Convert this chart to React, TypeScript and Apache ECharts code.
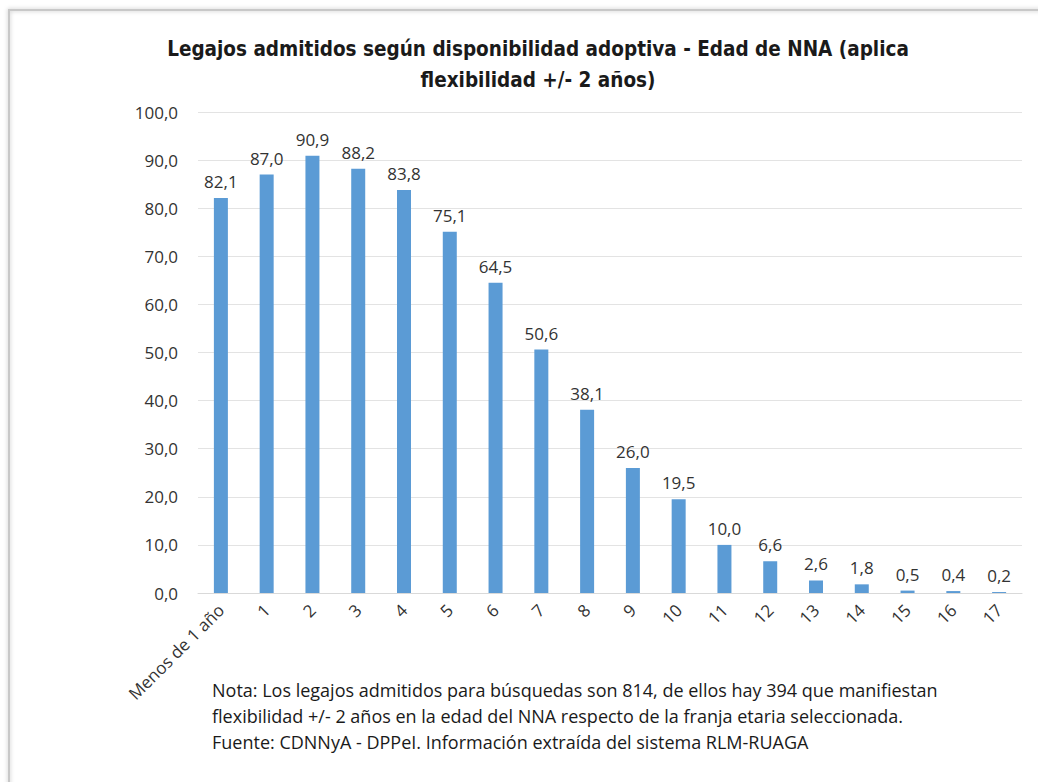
import React, { useEffect, useRef } from "react";
import * as echarts from "echarts";

const categories = ["Menos de 1 año", "1", "2", "3", "4", "5", "6", "7", "8", "9", "10", "11", "12", "13", "14", "15", "16", "17"];
const values = [82.1, 87.0, 90.9, 88.2, 83.8, 75.1, 64.5, 50.6, 38.1, 26.0, 19.5, 10.0, 6.6, 2.6, 1.8, 0.5, 0.4, 0.2];
const titleText = "Legajos admitidos según disponibilidad adoptiva - Edad de NNA (aplica\nflexibilidad +/- 2 años)";
const noteLines = [
  "Nota: Los legajos admitidos para búsquedas son 814, de ellos hay 394 que manifiestan",
  "flexibilidad +/- 2 años en la edad del NNA respecto de la franja etaria seleccionada.",
  "Fuente: CDNNyA - DPPeI. Información extraída del sistema RLM-RUAGA",
];

const fmt = (v: number) => v.toFixed(1).replace(".", ",");
const FONT = "'Liberation Sans Narrow', 'DejaVu Sans Condensed', 'Open Sans', sans-serif";
const FONT2 = "'Open Sans', 'Noto Sans', sans-serif";

export default function App() {
  const ref = useRef<HTMLDivElement>(null);
  useEffect(() => {
    const chart = echarts.init(ref.current!, null, { renderer: "svg" });
    chart.setOption({
      animation: false,
      backgroundColor: "#ffffff",
      title: {
        text: titleText,
        left: 533,
        textAlign: "center",
        top: 28,
        textStyle: { fontFamily: FONT, fontWeight: "bold", fontSize: 20.5, color: "#1a1a1a", lineHeight: 31 },
      },
      grid: { left: 198, right: 16, top: 112, bottom: 189, containLabel: false },
      xAxis: {
        type: "category",
        data: categories,
        axisLine: { show: true, lineStyle: { color: "#d9d9d9" } },
        axisTick: { show: false },
        axisLabel: { rotate: 45, fontFamily: FONT2, fontSize: 17, color: "#333333", interval: 0, margin: 14 },
      },
      yAxis: {
        type: "value",
        min: 0,
        max: 100,
        interval: 10,
        axisLine: { show: false },
        axisTick: { show: false },
        splitLine: { lineStyle: { color: "#e3e3e3" } },
        axisLabel: { formatter: (v: number) => fmt(v), fontFamily: FONT2, fontSize: 17, color: "#333333", margin: 20 },
      },
      series: [
        {
          type: "bar",
          data: values,
          barWidth: 14,
          itemStyle: { color: "#5b9bd5" },
          label: {
            show: true,
            position: "top",
            distance: 8,
            formatter: (p: any) => fmt(p.value),
            fontFamily: FONT2,
            fontSize: 17,
            color: "#333333",
          },
        },
      ],
      graphic: [
        { type: "rect", shape: { x: 9, y: 10, width: 1040, height: 790 }, style: { fill: "none", stroke: "#c8c8c8", lineWidth: 2, shadowBlur: 4, shadowColor: "rgba(0,0,0,0.25)" }, z: 10 },
        ...noteLines.map((t, i) => ({
          type: "text",
          left: 212,
          top: 681 + i * 26,
          style: { text: t, fontFamily: FONT2, fontSize: 18, fill: "#1a1a1a" },
        })),
      ],
    });
    return () => chart.dispose();
  }, []);
  return <div ref={ref} style={{ position: "absolute", left: 0, top: 0, width: 1038, height: 782 }} />;
}
